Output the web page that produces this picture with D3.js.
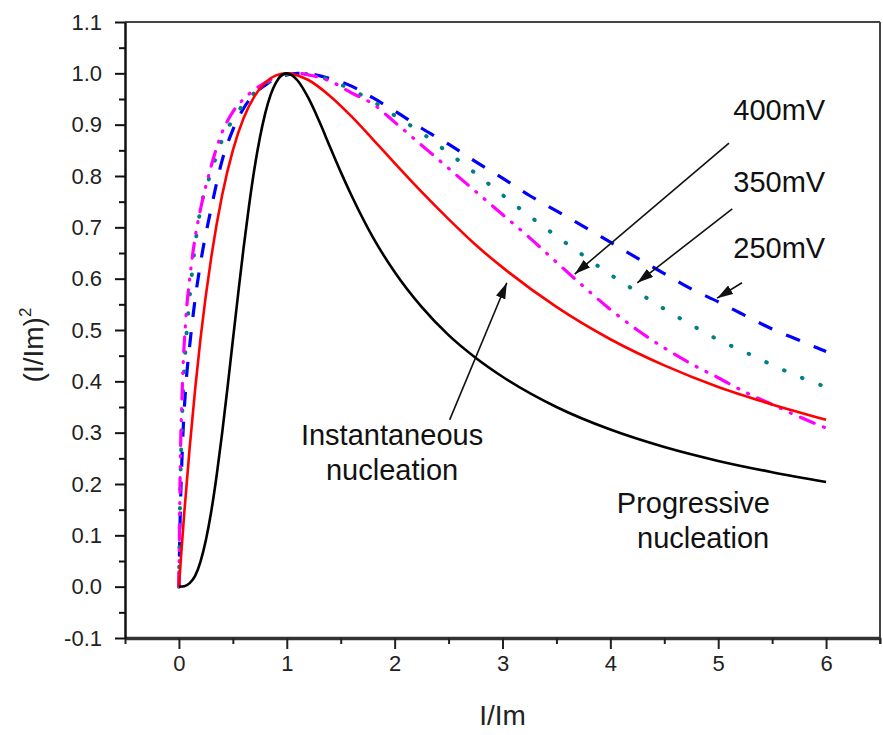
<!DOCTYPE html>
<html>
<head>
<meta charset="utf-8">
<script src="https://cdn.jsdelivr.net/npm/d3@7"></script>
<style>
  html, body { margin: 0; padding: 0; background: #fff; }
  svg { display: block; font-family: "Liberation Sans", Arial, sans-serif; }
</style>
</head>
<body>
<svg id="chart" width="883" height="735"></svg>
<script>
// Normalised current transients: (I/Im)^2 against t/tm
// Theoretical instantaneous nucleation
const instX = [0, 0.02, 0.05, 0.1, 0.15, 0.2, 0.3, 0.4, 0.5, 0.6, 0.7, 0.8, 0.9, 1.0, 1.1, 1.2, 1.4, 1.6, 1.8, 2.0, 2.25, 2.5, 2.75, 3.0, 3.5, 4.0, 4.5, 5.0, 5.5, 6.0];
const instY = [0, 0.060, 0.145, 0.272, 0.384, 0.483, 0.642, 0.762, 0.850, 0.913, 0.955, 0.982, 0.996, 1.000, 0.996, 0.987, 0.956, 0.916, 0.871, 0.825, 0.769, 0.716, 0.666, 0.622, 0.545, 0.482, 0.431, 0.389, 0.355, 0.325];

// Theoretical progressive nucleation
const progX = [0, 0.05, 0.1, 0.15, 0.2, 0.25, 0.3, 0.35, 0.4, 0.45, 0.5, 0.55, 0.6, 0.65, 0.7, 0.75, 0.8, 0.85, 0.9, 0.95, 1.0, 1.05, 1.1, 1.2, 1.3, 1.4, 1.5, 1.6, 1.8, 2.0, 2.25, 2.5, 2.75, 3.0, 3.5, 4.0, 4.5, 5.0, 5.5, 6.0];
const progY = [0, 0.001, 0.007, 0.021, 0.049, 0.091, 0.147, 0.217, 0.298, 0.387, 0.480, 0.572, 0.661, 0.742, 0.814, 0.874, 0.922, 0.958, 0.982, 0.996, 1.000, 0.996, 0.986, 0.952, 0.907, 0.857, 0.808, 0.762, 0.680, 0.613, 0.545, 0.490, 0.446, 0.409, 0.350, 0.306, 0.272, 0.245, 0.223, 0.204];

// Experimental transients at three deposition potentials
const expX = [0, 0.01, 0.03, 0.06, 0.1, 0.15, 0.2, 0.3, 0.4, 0.5, 0.6, 0.7, 0.8, 0.9, 1.0, 1.1, 1.2, 1.4, 1.6, 1.8, 2.0, 2.25, 2.5, 2.75, 3.0, 3.25, 3.5, 3.75, 4.0, 4.25, 4.5, 4.75, 5.0, 5.25, 5.5, 5.75, 6.0];
const y250 = [0, 0.12, 0.26, 0.38, 0.47, 0.56, 0.630, 0.738, 0.830, 0.890, 0.932, 0.960, 0.977, 0.990, 0.997, 1.000, 0.999, 0.990, 0.975, 0.952, 0.927, 0.893, 0.862, 0.828, 0.796, 0.762, 0.732, 0.702, 0.671, 0.640, 0.610, 0.580, 0.555, 0.528, 0.502, 0.480, 0.458];
const y350 = [0, 0.16, 0.33, 0.46, 0.565, 0.665, 0.735, 0.808, 0.870, 0.910, 0.940, 0.962, 0.979, 0.991, 0.998, 1.000, 0.998, 0.987, 0.968, 0.945, 0.918, 0.884, 0.845, 0.805, 0.763, 0.722, 0.683, 0.645, 0.608, 0.574, 0.541, 0.510, 0.481, 0.457, 0.432, 0.409, 0.389];
const y400 = [0, 0.20, 0.38, 0.51, 0.60, 0.680, 0.735, 0.820, 0.885, 0.925, 0.950, 0.968, 0.982, 0.992, 0.998, 1.000, 0.997, 0.985, 0.962, 0.940, 0.905, 0.860, 0.815, 0.770, 0.725, 0.680, 0.632, 0.585, 0.540, 0.500, 0.465, 0.434, 0.407, 0.379, 0.355, 0.331, 0.309];

// Axis ticks
const xTicks = [0, 1, 2, 3, 4, 5, 6];
const xMinor = [-0.5, 0.5, 1.5, 2.5, 3.5, 4.5, 5.5, 6.5];
const yTicks = [-0.1, 0.0, 0.1, 0.2, 0.3, 0.4, 0.5, 0.6, 0.7, 0.8, 0.9, 1.0, 1.1];
const yMinor = [-0.05, 0.05, 0.15, 0.25, 0.35, 0.45, 0.55, 0.65, 0.75, 0.85, 0.95, 1.05];

// Annotation text and arrows (data coordinates)
const potentialLabels = ["400mV", "350mV", "250mV"];
const potentialLabelY = [0.909, 0.769, 0.640];
const potentialLabelX = 5.14;
const arrows = [
  { x1: 5.10, y1: 0.864, x2: 3.67, y2: 0.609 },
  { x1: 5.13, y1: 0.736, x2: 4.25, y2: 0.592 },
  { x1: 5.22, y1: 0.592, x2: 4.99, y2: 0.562 },
  { x1: 2.51, y1: 0.325, x2: 3.04, y2: 0.592 }
];

const plot = { left: 125, right: 880, top: 22, bottom: 638 };

const svg = d3.select("#chart");

const x = d3.scaleLinear().domain([-0.5, 6.5]).range([plot.left, plot.right]);
const y = d3.scaleLinear().domain([-0.1, 1.1]).range([plot.bottom, plot.top]);

// Frame (top and right)
svg.append("line")
  .attr("x1", plot.left).attr("x2", plot.right)
  .attr("y1", plot.top).attr("y2", plot.top)
  .attr("stroke", "#444").attr("stroke-width", 2);
svg.append("line")
  .attr("x1", plot.right).attr("x2", plot.right)
  .attr("y1", plot.top).attr("y2", plot.bottom + 6)
  .attr("stroke", "#444").attr("stroke-width", 2);

// Curves
const line = d3.line()
  .x(d => x(d[0]))
  .y(d => y(d[1]))
  .curve(d3.curveMonotoneX);

const series = [
  { xs: expX, ys: y250, color: "#0000ff", width: 3.2, dash: "15,15", cap: "butt" },
  { xs: expX, ys: y350, color: "#008080", width: 4, dash: "0.5,19", cap: "round" },
  { xs: expX, ys: y400, color: "#ff00ff", width: 3.2, dash: "15,10,1,10,1,10", cap: "round" },
  { xs: instX, ys: instY, color: "#ff0000", width: 2.6, dash: null, cap: "butt" },
  { xs: progX, ys: progY, color: "#000000", width: 2.6, dash: null, cap: "butt" }
];

const curves = svg.append("g");
series.forEach(s => {
  curves.append("path")
    .datum(s.xs.map((v, i) => [v, s.ys[i]]))
    .attr("d", line)
    .attr("fill", "none")
    .attr("stroke", s.color)
    .attr("stroke-width", s.width)
    .attr("stroke-linecap", s.cap)
    .attr("stroke-dasharray", s.dash);
});

// X axis
const xAxis = svg.append("g").attr("transform", `translate(0,${plot.bottom})`);
xAxis.call(d3.axisBottom(x).tickValues(xTicks).tickSize(11).tickSizeOuter(0).tickFormat(d3.format("d")));
xAxis.append("g").call(d3.axisBottom(x).tickValues(xMinor).tickSize(6).tickFormat(""))
  .select(".domain").remove();
xAxis.selectAll(".domain").attr("stroke", "#333").attr("stroke-width", 3.5);
xAxis.selectAll(".tick line").attr("stroke", "#222").attr("stroke-width", 2);
xAxis.selectAll(".tick text")
  .attr("font-size", 22).attr("fill", "#222").attr("dy", null).attr("y", 33)
  .attr("font-family", "Liberation Sans, Arial, sans-serif");

// Y axis
const fmtY = v => d3.format(".1f")(v).replace("\u2212", "-");
const yAxis = svg.append("g").attr("transform", `translate(${plot.left},0)`);
yAxis.call(d3.axisLeft(y).tickValues(yTicks).tickSize(10).tickSizeOuter(0).tickFormat(fmtY));
yAxis.append("g").call(d3.axisLeft(y).tickValues(yMinor).tickSize(6).tickFormat(""))
  .select(".domain").remove();
yAxis.selectAll(".domain").attr("stroke", "#111").attr("stroke-width", 2.5);
yAxis.selectAll(".tick line").attr("stroke", "#111").attr("stroke-width", 2);
yAxis.selectAll(".tick text")
  .attr("font-size", 22).attr("fill", "#222").attr("x", -23)
  .attr("font-family", "Liberation Sans, Arial, sans-serif");

// Axis titles
svg.append("text")
  .attr("x", (plot.left + plot.right) / 2).attr("y", 725)
  .attr("text-anchor", "middle").attr("font-size", 28).attr("fill", "#222")
  .text("I/Im");

const yt = svg.append("text")
  .attr("transform", `translate(43,345) rotate(-90)`)
  .attr("text-anchor", "middle").attr("font-size", 28).attr("fill", "#222");
yt.append("tspan").text("(I/Im)");
yt.append("tspan").attr("font-size", 17).attr("dy", -12).text("2");

// Arrow head marker
svg.append("defs").append("marker")
  .attr("id", "head")
  .attr("markerUnits", "userSpaceOnUse")
  .attr("viewBox", "0 0 16 10")
  .attr("refX", 16).attr("refY", 5)
  .attr("markerWidth", 16).attr("markerHeight", 10)
  .attr("orient", "auto")
  .append("path").attr("d", "M0,0 L16,5 L0,10 Z").attr("fill", "#111");

svg.append("g").selectAll("line").data(arrows).join("line")
  .attr("x1", d => x(d.x1)).attr("y1", d => y(d.y1))
  .attr("x2", d => x(d.x2)).attr("y2", d => y(d.y2))
  .attr("stroke", "#111").attr("stroke-width", 1.6)
  .attr("marker-end", "url(#head)");

// Annotation labels
const ann = svg.append("g").attr("font-size", 29).attr("fill", "#111");
potentialLabels.forEach((t, i) => {
  ann.append("text").attr("x", x(potentialLabelX)).attr("y", y(potentialLabelY[i])).text(t);
});
ann.append("text").attr("x", x(1.976)).attr("y", y(0.276)).attr("text-anchor", "middle").text("Instantaneous");
ann.append("text").attr("x", x(1.976)).attr("y", y(0.208)).attr("text-anchor", "middle").text("nucleation");
ann.append("text").attr("x", x(4.77)).attr("y", y(0.1435)).attr("text-anchor", "middle").text("Progressive");
ann.append("text").attr("x", x(4.86)).attr("y", y(0.0753)).attr("text-anchor", "middle").text("nucleation");
</script>
</body>
</html>
